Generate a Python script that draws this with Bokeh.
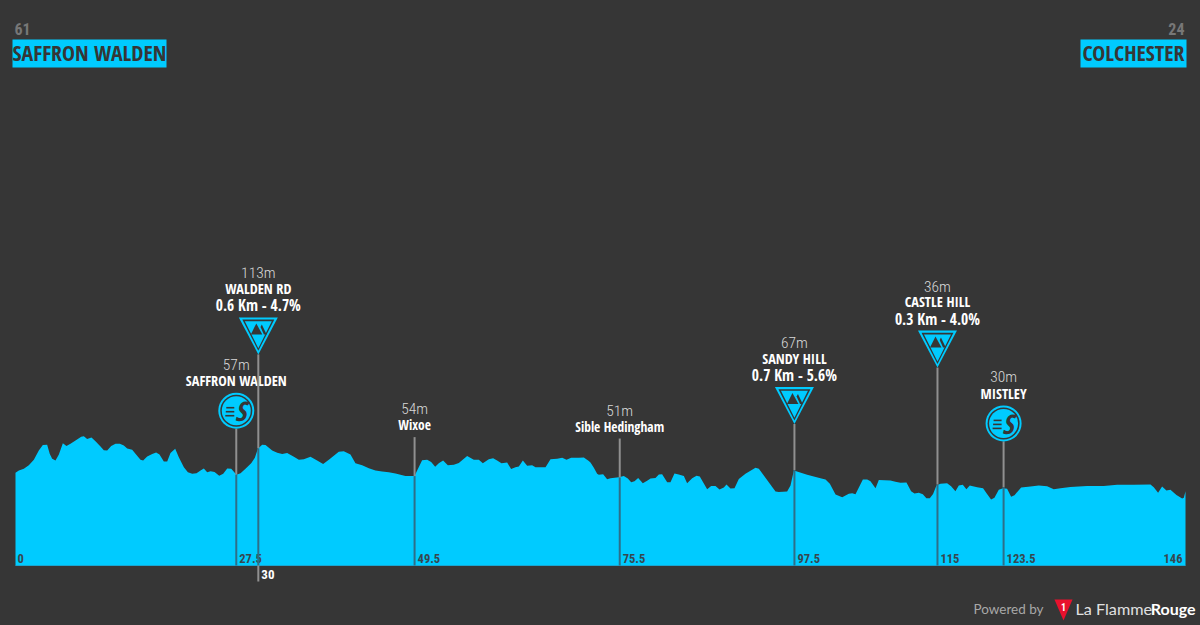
from bokeh.plotting import figure
from bokeh.models import Range1d
from bokeh.core.properties import value
from bokeh.embed import file_html
from bokeh.resources import INLINE

km = [0,0.42,1.04,1.66,2.29,2.91,3.41,3.95,4.28,4.58,4.99,5.41,5.91,6.36,6.86,7.49,8.2,8.53,8.94,9.48,9.98,10.61,11.02,11.44,11.94,12.48,13.02,13.52,13.94,14.56,15.1,15.6,15.93,16.43,17.06,17.55,17.97,18.51,18.93,19.34,19.93,20.38,21.01,21.51,22.05,22.59,23.09,23.5,23.92,24.34,24.84,25.42,25.92,26.42,26.92,27.58,28.08,28.7,29.41,29.87,30.24,30.78,31.2,32.03,32.66,33.28,33.9,34.74,35.36,35.98,
      36.81,37.64,38.39,39.1,40.34,40.97,41.8,42.42,43.26,44.09,44.92,45.75,46.58,47.42,48.04,48.66,49.79,50.12,50.74,51.37,51.87,52.37,52.82,53.36,53.95,54.7,55.32,56.36,57.19,57.82,58.32,59.06,59.6,60.1,60.64,61.35,61.85,62.39,62.81,63.31,63.85,64.47,64.89,66.14,66.76,67.59,68.22,68.76,69.34,70.3,70.92,71.54,71.75,72.17,
      72.58,72.79,73.33,73.83,74.25,75.29,75.91,76.41,76.83,77.24,77.7,78.28,78.82,79.24,79.86,80.28,80.69,81.32,81.73,82.23,82.77,83.4,83.81,84.44,84.98,85.39,86.31,86.81,87.35,87.85,88.39,88.72,89.22,89.72,90.26,91.09,92.34,92.76,93.38,94.84,95.25,96.29,96.71,97.13,98.79,100.45,101.08,101.62,102.33,103.16,103.99,104.41,104.82,105.74,106.28,106.69,107.32,107.73,109.18,
      109.8,110.43,111.18,111.76,112.18,112.72,113.22,113.67,114.09,114.5,114.92,115.42,116.25,116.75,117.29,117.71,118.21,118.66,119.08,120.0,120.74,121.24,121.74,122.16,122.7,123.24,123.74,124.24,124.66,125.49,126.65,127.69,128.73,129.56,130.4,131.64,133.72,135.8,137.47,139.55,141.63,142.04,142.58,143.08,143.62,144.12,144.87,145.58,145.79,146.0]
elevation = [61,66,69.5,77,89,108.5,120,121,101,91,87,100,124,118,123,130,138,139,133,136,128,117,109,108.5,118,123,123,119,113,110,99,89,87,96,101,104,100,85,85,103,112,94,73,62,59,60,66,70,62,64.5,63,55,59,70,69.5,57,60,69.5,81.5,93,112,120.5,120,108.5,103.5,101,103,95,89,90,
             95,87,80,89,105.6,107,100,81.5,77,71,66,64,62,59.6,57,54,54,66,88,89,84,74,81.5,87,77,78,82,97,89,89,81.5,90,92,87,81.5,83,69,73,74.5,87,76,77,73,73,90,91,93,89,93,93,93.6,86,83,72,
             59,56.8,58,47.5,49.7,51.8,54,49,41,43,50,39,44,49,50,57.5,58,41,41,59.6,57.5,54,39,49.7,55,53,26,33,33,25.6,30,36,27.7,28.4,48,59,71.7,69.5,55.4,21.3,20,21.3,34,66,56.8,49.7,46.8,37.6,15,9.3,16.4,17.8,15.6,46.8,46.8,43,28.4,46,44.7,
             41.9,39.7,40.4,22,17,18.5,15.6,7,7,16,34,37.6,39,32.6,22,34,35.5,26,34,30.5,28.4,16,4,7.8,24.8,28.4,27,10,13.5,29.8,32,34,32.6,26,28.4,31,33,33,35.5,35.5,36,30.5,18.5,32,23.4,24.8,14,6.4,7.8,22]

start_name, start_alt = "SAFFRON WALDEN", "61"
finish_name, finish_alt = "COLCHESTER", "24"
point_km = [27.55, 30.3, 49.8, 75.4, 97.2, 115.05, 123.3]
point_alt = [57, 113, 54, 51, 67, 36, 30]
point_kind = ["sprint", "climb", "place", "place", "climb", "climb", "sprint"]
point_name = ["SAFFRON WALDEN", "WALDEN RD", "Wixoe", "Sible Hedingham", "SANDY HILL", "CASTLE HILL", "MISTLEY"]
point_detail = ["", "0.6 Km - 4.7%", "", "", "0.7 Km - 5.6%", "0.3 Km - 4.0%", ""]
tick_labels = ["27.5", "30", "49.5", "75.5", "97.5", "115", "123.5"]

# layout (pixels)
W, H = 1200, 625
PX_KM = 1170 / 146
PX_M = 0.47
LEFT = 15
ZERO_Y = 501      # screen row of 0 m
BASE_Y = 565
stem_px = [46, 94, 39, 39, 46, 117, 46]

def X(px): return (px - LEFT) / PX_KM
def Y(py): return (ZERO_Y - py) / PX_M

CYAN = "#00CBFF"
BG = "#363636"
DARK = "#363636"
NAME = "Open Sans Condensed"
TICK = "Roboto Condensed"
THIN = "Roboto Condensed Light"

p = figure(width=W + 1, height=H + 1, output_backend="svg", toolbar_location=None,
           x_range=Range1d(X(-1), X(W)), y_range=Range1d(Y(H), Y(-1)),
           min_border=0, margin=(-1, 0, 0, -1),
           background_fill_color=BG, border_fill_color=BG, outline_line_color=None)
p.axis.visible = False
p.grid.visible = False

base = Y(BASE_Y)

# profile
p.varea(x=km, y1=[base] * len(km), y2=elevation, fill_color=CYAN)
p.line([km[0], km[-1]], [base, base], line_color="#18A6D2", line_width=1)

def label(x, y, txt, dx=0, dy=0, font=NAME, size=15.5, color="#FFFFFF", style="bold",
          align="center", baseline="middle"):
    p.text([x], [y], text=[txt], x_offset=dx, y_offset=dy, text_font=value(font),
           text_font_size=f"{size}px", text_color=color, text_font_style=style,
           text_align=align, text_baseline=baseline)

def poly(cx, cy, pts, color):
    p.patch([cx + a / PX_KM for a, b in pts], [cy + b / PX_M for a, b in pts],
            fill_color=color, line_color=None)

# start / finish
p.quad(left=[X(12)], right=[X(166)], top=[Y(39)], bottom=[Y(67)], fill_color=CYAN, line_color=None)
p.quad(left=[X(1080)], right=[X(1186)], top=[Y(39)], bottom=[Y(67)], fill_color=CYAN, line_color=None)
label(X(89), Y(52), start_name, size=21.8, color=DARK)
label(X(1133), Y(52), finish_name, size=21.8, color=DARK)
label(X(14), Y(28), start_alt, size=16, color="#777777", align="left", font=TICK)
label(X(1184), Y(28), finish_alt, size=16, color="#777777", align="right", font=TICK)

# tick labels of ends
label(X(17), base, "0", dy=-7, size=12.5, color="#37474F", align="left", font=TICK)
label(X(1182), base, "146", dy=-7, size=12.5, color="#37474F", align="right", font=TICK)

# waypoints
for k, a, kind, nm, det, tk, st in zip(point_km, point_alt, point_kind, point_name,
                                       point_detail, tick_labels, stem_px):
    top_y = a + st / PX_M
    p.line([k, k], [a, top_y], line_color="#909090", line_width=2)
    p.line([k, k], [base, a], line_color="#2E6E88", line_width=2)
    if tk == "30":
        p.line([k, k], [base, base - 16 / PX_M], line_color="#909090", line_width=2)
        label(k, base, tk, dx=3, dy=9, size=13, color="#FFFFFF", align="left", font=TICK)
    else:
        label(k, base, tk, dx=3, dy=-7, size=12.5, color="#37474F", align="left", font=TICK)

    if kind == "climb":
        poly(k, top_y, [(-19.5, 37), (19.5, 37), (0, 0)], CYAN)
        poly(k, top_y, [(-16, 34.8), (16, 34.8), (0, 3.6)], DARK)
        poly(k, top_y, [(-13.5, 33.2), (13.5, 33.2), (0, 6.2)], CYAN)
        poly(k, top_y, [(-7.5, 20), (4, 20), (-2, 31)], DARK)
        poly(k, top_y, [(3.5, 30), (8.3, 20), (5.6, 20), (2.2, 27.5)], DARK)
        yb = top_y + 37 / PX_M
        label(k, yb, nm, dy=-29, size=14.3)
        label(k, yb, det, dy=-12)
        label(k, yb, f"{a}m", dy=-44, size=15.5, font=THIN, style="normal", color="#D8D8D8")
    elif kind == "sprint":
        cy = top_y + 18 / PX_M
        p.scatter([k], [cy], marker="circle", size=36, fill_color=CYAN, line_color=None)
        p.scatter([k], [cy], marker="circle", size=32, fill_color=DARK, line_color=None)
        p.scatter([k], [cy], marker="circle", size=29, fill_color=CYAN, line_color=None)
        for dy0, x0 in ((-3, -10), (1, -10.5), (5, -11)):
            p.line([k + x0 / PX_KM, k + -2 / PX_KM], [cy - dy0 / PX_M] * 2, line_color=DARK, line_width=1.6)
        label(k, cy, "S", dx=4, dy=0, size=27, color=DARK, style="bold italic")
        label(k, cy, nm, dy=-30, size=14.3)
        label(k, cy, f"{a}m", dy=-46, size=15.5, font=THIN, style="normal", color="#D8D8D8")
    else:
        label(k, top_y, nm, dy=-12, size=13.5)
        label(k, top_y, f"{a}m", dy=-28, size=15.5, font=THIN, style="normal", color="#D8D8D8")

# brand
label(X(973), Y(608), "Powered by", size=13.5, font="Lato", style="normal", color="#A8A8A8", align="left")
p.patch([X(1054), X(1072), X(1063)], [Y(599), Y(599), Y(620)], fill_color="#E8112D", line_color=None)
label(X(1063), Y(606), "1", size=10, color="#FFFFFF", font=TICK)
label(X(1075), Y(608), "La Flamme", size=16.2, font="Lato", style="normal", color="#E0E0E0", align="left")
label(X(1195), Y(608), "Rouge", size=16, font="Lato", style="bold", color="#FFFFFF", align="right")

open("out.html", "w").write(file_html(p, INLINE))
